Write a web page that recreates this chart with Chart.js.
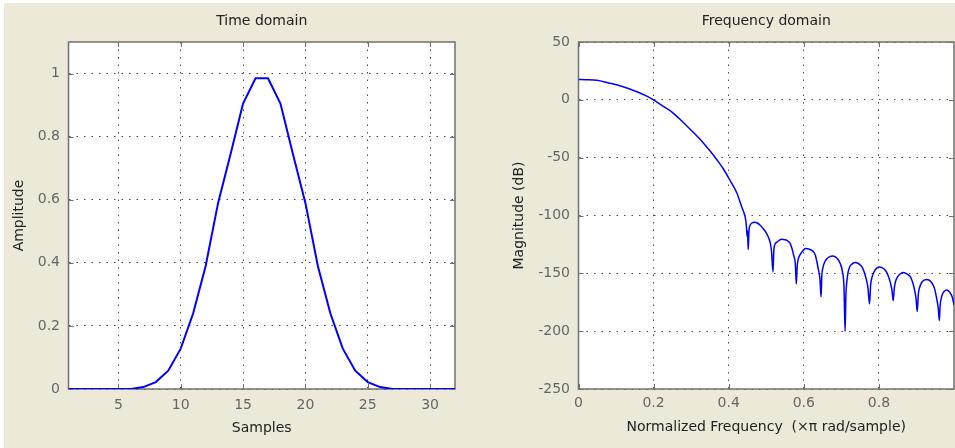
<!DOCTYPE html>
<html>
<head>
<meta charset="utf-8">
<title>Window</title>
<script src="https://cdn.jsdelivr.net/npm/chart.js@4"></script>
<style>
  html, body { margin: 0; padding: 0; background: #fff; }
  body { width: 955px; height: 448px; position: relative; overflow: hidden; }
  #bg { position: absolute; left: 4px; top: 3px; right: 0; bottom: 0; background: #ece9d8; }
  canvas { position: absolute; top: 0; }
  #timeChart { left: 0; }
  #freqChart { left: 478px; }
</style>
</head>
<body>
<div id="bg"></div>
<canvas id="timeChart" width="478" height="448"></canvas>
<canvas id="freqChart" width="477" height="448"></canvas>
<script>
// time domain, one value per sample
const samples = [1, 2, 3, 4, 5, 6, 7, 8, 9, 10, 11, 12, 13, 14, 15, 16,
                 17, 18, 19, 20, 21, 22, 23, 24, 25, 26, 27, 28, 29, 30, 31, 32];
const amplitude = [0, 0, 0, 0, 0, 0, 0.006, 0.022, 0.058, 0.128, 0.24, 0.39, 0.59, 0.745, 0.905, 0.985,
                   0.985, 0.905, 0.745, 0.59, 0.39, 0.24, 0.128, 0.058, 0.022, 0.006, 0, 0, 0, 0, 0, 0];
const sampleTicks = [5, 10, 15, 20, 25, 30];
const amplitudeTicks = [0, 0.2, 0.4, 0.6, 0.8, 1];

// frequency domain: normalized frequency (x pi rad/sample) vs magnitude (dB)
const normFreq = [
  0, 0.02, 0.049, 0.08, 0.106, 0.133, 0.159, 0.182, 0.2, 0.222, 0.249, 0.275, 0.302, 0.329, 0.351,
  0.369, 0.386, 0.404, 0.422, 0.435, 0.441, 0.444, 0.447, 0.449, 0.45, 0.452, 0.454, 0.457, 0.462,
  0.469, 0.476, 0.484, 0.492, 0.5, 0.506, 0.511, 0.514, 0.518,
  0.52, 0.522, 0.5285, 0.535, 0.542, 0.549, 0.555, 0.56, 0.564, 0.5685, 0.573, 0.5773, 0.58,
  0.582, 0.584, 0.589, 0.595, 0.6, 0.606, 0.613, 0.62, 0.626, 0.631, 0.635, 0.639, 0.643, 0.646,
  0.648, 0.651, 0.656, 0.662, 0.669, 0.677, 0.684, 0.691, 0.697, 0.703, 0.707, 0.71,
  0.712, 0.715, 0.718, 0.722, 0.729, 0.737, 0.745, 0.751, 0.755, 0.761, 0.767, 0.771, 0.775,
  0.778, 0.782, 0.786, 0.791, 0.796, 0.802, 0.809, 0.817, 0.824, 0.831, 0.835, 0.838,
  0.841, 0.844, 0.848, 0.853, 0.859, 0.865, 0.872, 0.878, 0.884, 0.89, 0.895, 0.899, 0.902,
  0.905, 0.909, 0.915, 0.921, 0.927, 0.933, 0.938, 0.942, 0.948, 0.953, 0.958, 0.961,
  0.963, 0.966, 0.97, 0.973, 0.977, 0.98, 0.985, 0.99, 0.995, 0.998, 1.0
];
const magnitudeDb = [
  17.5, 17.4, 16.9, 14.6, 12.6, 9.8, 6.6, 3.2, 0, -4.8, -10.6, -18.3, -26.9, -36, -44.5,
  -52, -59.8, -69.9, -80.8, -92.9, -98, -101.5, -108.6, -118, -113, -129.5, -113, -108.5, -106.5,
  -105.8, -106.5, -108.5, -111.5, -115, -119, -124.3, -131, -148.8,
  -131, -125.8, -123, -121.3, -120.6, -120.9, -121.5, -122.8, -124.3, -128.6, -134.4, -141.5, -159.3,
  -146, -139.5, -134.5, -131.5, -129.5, -128.6, -128.9, -130, -131.5, -134.5, -140.2, -147, -155, -170.3,
  -152, -145, -140, -137.2, -135.5, -135, -135.8, -138, -141.5, -148.8, -162, -200.3,
  -170, -155.9, -149, -144.5, -141.8, -140.7, -141.5, -143, -144.5, -149, -155.9, -163, -176.5,
  -160, -153, -149.5, -146.7, -145, -144.5, -145.2, -147.3, -151.5, -158.7, -165, -173.7,
  -163, -157.4, -154, -151.6, -150, -149.3, -150, -151.3, -153, -158, -164.5, -172, -183.1,
  -168, -161.6, -157.4, -155.8, -155.3, -155.8, -157, -158.7, -163, -170.3, -180, -190.9,
  -178, -171.6, -167.5, -165.9, -164.7, -164.5, -165.2, -167, -170.3, -174, -177.4
];
const freqTicks = [0, 0.2, 0.4, 0.6, 0.8];
const dbTicks = [-250, -200, -150, -100, -50, 0, 50];

const FONT = 'DejaVu Sans';
const TEXT = '#222';
const TICK_TEXT = '#666';
const FRAME = '#707070';

// white plot area, then the frame with short inward tick marks on all four sides
const axesBox = {
  id: 'axesBox',
  beforeDraw(chart) {
    const { ctx, chartArea: a } = chart;
    ctx.save();
    ctx.fillStyle = '#fff';
    ctx.fillRect(a.left, a.top, a.right - a.left, a.bottom - a.top);
    ctx.restore();
  },
  beforeDatasetsDraw(chart) {
    const { ctx, chartArea: a, scales: { x, y } } = chart;
    ctx.save();
    ctx.strokeStyle = FRAME;
    ctx.lineWidth = 1;
    ctx.beginPath();
    x.ticks.forEach(t => {
      const px = Math.round(x.getPixelForValue(t.value)) + 0.5;
      ctx.moveTo(px, a.bottom); ctx.lineTo(px, a.bottom - 5);
      ctx.moveTo(px, a.top); ctx.lineTo(px, a.top + 5);
    });
    y.ticks.forEach(t => {
      const py = Math.round(y.getPixelForValue(t.value)) + 0.5;
      ctx.moveTo(a.left, py); ctx.lineTo(a.left + 5, py);
      ctx.moveTo(a.right, py); ctx.lineTo(a.right - 5, py);
    });
    ctx.stroke();
    ctx.lineWidth = 1.5;
    ctx.strokeRect(a.left, a.top, a.right - a.left, a.bottom - a.top);
    ctx.restore();
  }
};

function axis(opts) {
  return {
    type: 'linear',
    min: opts.min,
    max: opts.max,
    afterBuildTicks: s => { s.ticks = opts.ticks.map(v => ({ value: v })); },
    afterFit: s => {
      if (s.isHorizontal()) s.height = opts.size; else s.width = opts.size;
    },
    grid: { color: '#4a4a4a', lineWidth: 1, drawTicks: false },
    border: { display: false, dash: [1.5, 6] },
    ticks: {
      padding: opts.tickPad,
      color: TICK_TEXT,
      font: { family: FONT, size: 14 },
      maxRotation: 0,
      callback: v => String(v)
    },
    title: {
      display: true,
      text: opts.title,
      color: TEXT,
      font: { family: FONT, size: 14 },
      padding: opts.titlePad
    }
  };
}

function plotTitle(text) {
  return {
    display: true,
    text: text,
    fullSize: false,
    color: TEXT,
    font: { family: FONT, size: 14, weight: 'normal' },
    padding: { top: 13, bottom: 12.2 }
  };
}

new Chart(document.getElementById('timeChart'), {
  type: 'line',
  data: {
    datasets: [{
      data: samples.map((s, i) => ({ x: s, y: amplitude[i] })),
      borderColor: '#0000ff',
      borderWidth: 2,
      pointRadius: 0,
      tension: 0
    }]
  },
  options: {
    responsive: false,
    animation: false,
    devicePixelRatio: 1,
    layout: { padding: { left: 0, right: 23, top: 0, bottom: 0 } },
    plugins: { legend: { display: false }, tooltip: { enabled: false }, title: plotTitle('Time domain') },
    scales: {
      x: axis({ min: 1, max: 32, ticks: sampleTicks, size: 59, tickPad: 8,
                title: 'Samples', titlePad: { top: 0, bottom: 11.6 } }),
      y: axis({ min: 0, max: 1.1, ticks: amplitudeTicks, size: 68.5, tickPad: 8.5,
                title: 'Amplitude', titlePad: { top: 11, bottom: 0 } })
    }
  },
  plugins: [axesBox]
});

new Chart(document.getElementById('freqChart'), {
  type: 'line',
  data: {
    datasets: [{
      data: normFreq.map((f, i) => ({ x: f, y: magnitudeDb[i] })),
      borderColor: '#0000ff',
      borderWidth: 1.5,
      pointRadius: 0,
      cubicInterpolationMode: 'monotone'
    }]
  },
  options: {
    responsive: false,
    animation: false,
    devicePixelRatio: 1,
    layout: { padding: { left: 0, right: 1, top: 0, bottom: 0 } },
    plugins: { legend: { display: false }, tooltip: { enabled: false }, title: plotTitle('Frequency domain') },
    scales: {
      x: axis({ min: 0, max: 1, ticks: freqTicks, size: 59, tickPad: 6,
                title: 'Normalized Frequency  (\u00d7\u03c0 rad/sample)', titlePad: { top: 0, bottom: 11.9 } }),
      y: axis({ min: -250, max: 50, ticks: dbTicks, size: 100.5, tickPad: 8.5,
                title: 'Magnitude (dB)', titlePad: { top: 32.6, bottom: 0 } })
    }
  },
  plugins: [axesBox]
});
</script>
</body>
</html>
